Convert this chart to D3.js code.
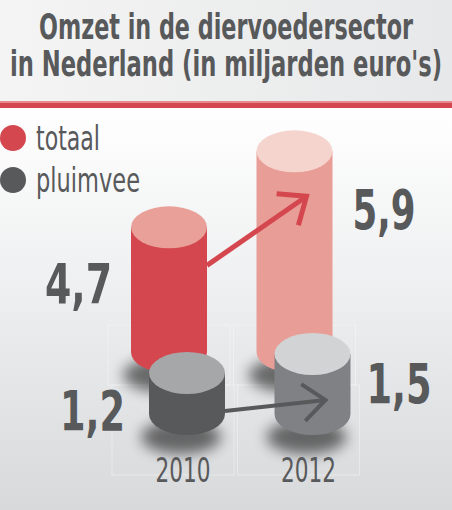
<!DOCTYPE html>
<html lang="nl">
<head>
  <meta charset="UTF-8" />
  <title>Omzet in de diervoedersector</title>
  <script src="https://d3js.org/d3.v7.min.js"></script>
  <style>
    body {
      margin: 0;
      background: #ffffff;
    }
    svg {
      display: block;
      font-family: "DejaVu Sans Condensed", "Liberation Sans Narrow", sans-serif;
    }
  </style>
</head>
<body>
<svg id="chart" width="452" height="510"></svg>

<script>
  // data
  const years = ["2010", "2012"];
  const totaal = [4.7, 5.9];
  const pluimvee = [1.2, 1.5];
  const labels = { totaal: ["4,7", "5,9"], pluimvee: ["1,2", "1,5"] };
  const legendNames = ["totaal", "pluimvee"];
  const titleLines = ["Omzet in de diervoedersector", "in Nederland (in miljarden euro's)"];

  const W = 452, H = 510;
  const svg = d3.select("#chart");
  const defs = svg.append("defs");

  // squeeze text to a given width (the original uses a condensed face)
  function fit(sel, w) {
    sel.attr("textLength", w).attr("lengthAdjust", "spacingAndGlyphs");
    return sel;
  }

  // backgrounds
  const headGrad = defs.append("linearGradient").attr("id", "headGrad")
    .attr("x1", 0).attr("x2", 1).attr("y1", 0).attr("y2", 0);
  headGrad.append("stop").attr("offset", "0%").attr("stop-color", "#f4f4f4");
  headGrad.append("stop").attr("offset", "100%").attr("stop-color", "#e7e8e9");

  const bodyGrad = defs.append("linearGradient").attr("id", "bodyGrad")
    .attr("x1", 0).attr("x2", 0).attr("y1", 0).attr("y2", 1);
  bodyGrad.append("stop").attr("offset", "0%").attr("stop-color", "#ffffff");
  bodyGrad.append("stop").attr("offset", "45%").attr("stop-color", "#eeeff0");
  bodyGrad.append("stop").attr("offset", "100%").attr("stop-color", "#d8d9db");

  const shadow = defs.append("filter").attr("id", "shadow")
    .attr("x", "-50%").attr("y", "-50%").attr("width", "200%").attr("height", "200%");
  shadow.append("feGaussianBlur").attr("stdDeviation", 7);

  svg.append("rect").attr("width", W).attr("height", 102).attr("fill", "url(#headGrad)");
  svg.append("rect").attr("y", 108).attr("width", W).attr("height", H - 108).attr("fill", "url(#bodyGrad)");
  svg.append("rect").attr("y", 101).attr("width", W).attr("height", 2).attr("fill", "#e58a8e");
  svg.append("rect").attr("y", 103).attr("width", W).attr("height", 5).attr("fill", "#d5474f");

  // title
  const titleWidths = [374, 432];
  svg.append("g").selectAll("text").data(titleLines).join("text")
    .attr("x", W / 2).attr("y", (d, i) => 39 + i * 37)
    .attr("text-anchor", "middle")
    .attr("font-size", 36).attr("font-weight", "bold").attr("fill", "#58595b")
    .text(d => d)
    .each(function(d, i) { fit(d3.select(this), titleWidths[i]); });

  // legend
  const legendColors = ["#d5474f", "#58595b"];
  const legendWidths = [64, 104];
  const legend = svg.append("g").selectAll("g").data(legendNames).join("g")
    .attr("transform", (d, i) => `translate(13,${138 + i * 42})`);
  legend.append("circle").attr("r", 13).attr("fill", (d, i) => legendColors[i]);
  legend.append("text").attr("x", 23).attr("y", 12)
    .attr("font-size", 33).attr("fill", "#58595b").text(d => d)
    .each(function(d, i) { fit(d3.select(this), legendWidths[i]); });

  // scales
  const x = d3.scalePoint().domain(years).range([169, 294.5]);
  const yTot = d3.scaleLinear().domain([0, 6]).range([525, 145]);
  const yPl = d3.scaleLinear().domain([0, 6]).range([449, 69]);
  const rx = 38, ry = 21;
  const grayShift = 18;

  const series = [
    { key: "totaal", values: totaal, y: yTot, base: 352, dx: 0,
      body: ["#d5474f", "#e89e96"], top: ["#e8a098", "#f5d4ce"] },
    { key: "pluimvee", values: pluimvee, y: yPl, base: 414, dx: grayShift,
      body: ["#58595b", "#808184"], top: ["#a6a7a9", "#d2d3d4"] }
  ];

  function cylPath(cx, yTop, yBot) {
    return `M${cx - rx},${yTop} L${cx - rx},${yBot} A${rx},${ry} 0 0 0 ${cx + rx},${yBot} L${cx + rx},${yTop} Z`;
  }

  // faint boxes behind the columns
  const boxes = svg.append("g").attr("fill", "none").attr("stroke", "#ffffff").attr("stroke-opacity", 0.35);
  years.forEach(yr => {
    const cx = x(yr);
    boxes.append("rect").attr("x", cx - 61).attr("y", 325).attr("width", 122).attr("height", 60);
    boxes.append("rect").attr("x", cx - 57).attr("y", 385).attr("width", 122).attr("height", 90);
  });

  function drawSeries(s) {
    const g = svg.append("g");
    s.values.forEach((v, i) => {
      const cx = x(years[i]) + s.dx;
      const yTop = s.y(v);
      g.append("ellipse")
        .attr("cx", cx - 6).attr("cy", s.base + ry + 2)
        .attr("rx", rx + 2).attr("ry", ry - 4)
        .attr("fill", "#000").attr("opacity", 0.55)
        .attr("filter", "url(#shadow)");
      g.append("path").attr("d", cylPath(cx, yTop, s.base)).attr("fill", s.body[i]);
      g.append("ellipse").attr("cx", cx).attr("cy", yTop).attr("rx", rx).attr("ry", ry).attr("fill", s.top[i]);
    });
    return g;
  }

  function arrow(x1, y1, x2, y2, color, w, head) {
    const ang = Math.atan2(y2 - y1, x2 - x1);
    const a1 = ang + Math.PI * 0.78, a2 = ang - Math.PI * 0.78;
    const g = svg.append("g").attr("stroke", color).attr("stroke-width", w).attr("fill", "none")
      .attr("stroke-linecap", "butt");
    g.append("line").attr("x1", x1).attr("y1", y1).attr("x2", x2 - Math.cos(ang) * 2).attr("y2", y2 - Math.sin(ang) * 2);
    g.append("path").attr("d",
      `M${x2 + Math.cos(a1) * head},${y2 + Math.sin(a1) * head} L${x2},${y2} L${x2 + Math.cos(a2) * head},${y2 + Math.sin(a2) * head}`);
  }

  // totaal cylinders + arrow
  const s0 = series[0];
  drawSeries(s0);
  arrow(x(years[0]) + rx, s0.y(totaal[0]) + 38, x(years[1]) + 12, s0.y(totaal[1]) + 45, "#d5474f", 5, 30);

  // pluimvee cylinders + arrow
  const s1 = series[1];
  drawSeries(s1);
  arrow(x(years[0]) + grayShift + rx, s1.y(pluimvee[0]) + 38, x(years[1]) + grayShift + 13, s1.y(pluimvee[1]) + 46, "#58595b", 4, 29);

  // value labels
  const valSize = 56, valColor = "#58595b";
  const valLabels = [
    { t: labels.totaal[0], x: x(years[0]) - rx - 19, y: s0.y(totaal[0]) + 76, anchor: "end", w: 67 },
    { t: labels.totaal[1], x: x(years[1]) + rx + 20, y: s0.y(totaal[1]) + 78, anchor: "start", w: 63 },
    { t: labels.pluimvee[0], x: x(years[0]) + grayShift - rx - 24, y: s1.y(pluimvee[0]) + 57, anchor: "end", w: 65 },
    { t: labels.pluimvee[1], x: x(years[1]) + grayShift + rx + 16, y: s1.y(pluimvee[1]) + 49, anchor: "start", w: 65 }
  ];
  valLabels.forEach(d => {
    fit(svg.append("text").attr("x", d.x).attr("y", d.y)
      .attr("text-anchor", d.anchor).attr("font-size", valSize).attr("font-weight", "bold")
      .attr("fill", valColor).text(d.t), d.w);
  });

  // year labels
  svg.append("g").selectAll("text").data(years).join("text")
    .attr("x", d => x(d) + grayShift - 4).attr("y", 482)
    .attr("text-anchor", "middle").attr("font-size", 33).attr("fill", "#58595b")
    .text(d => d)
    .each(function() { fit(d3.select(this), 55); });
</script>
</body>
</html>
